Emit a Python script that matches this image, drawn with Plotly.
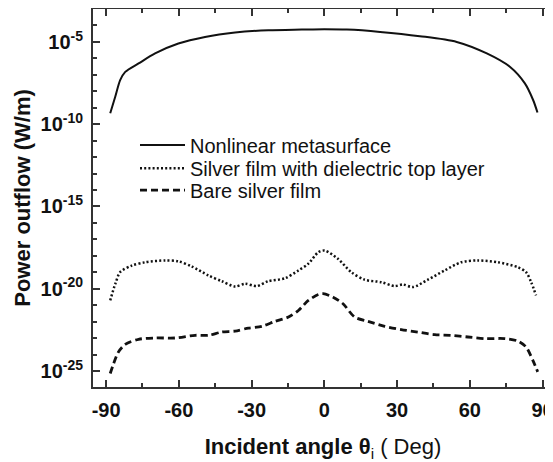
import plotly.graph_objects as go

# Incident angle (deg) and power outflow (W/m)
angle_nonlinear = [-88.3, -86.2, -84.2, -82.1, -76.6, -69.8, -60.2, -49.2, -36.8, -23.1, -9.3, 0.0,
                   9.3, 23.0, 39.4, 54.6, 67.0, 76.5, 82.7, 86.1, 87.9]
power_nonlinear = [4.57e-10, 4.79e-9, 4.79e-8, 1.51e-7, 4.90e-7, 2.00e-6, 7.94e-6, 2.00e-5, 3.72e-5,
                   5.13e-5, 5.62e-5, 5.89e-5, 5.62e-5, 4.07e-5, 2.24e-5, 1.00e-5, 2.00e-6, 3.09e-7,
                   3.02e-8, 2.95e-9, 5.13e-10]

angle_dielectric = [-88.3, -86.2, -84.2, -79.4, -73.9, -65.6, -60.2, -54.6, -47.8, -42.3, -36.8, -32.7,
                    -27.9, -23.1, -16.2, -10.7, -6.6, -2.5, 0.2, 5.6, 11.1, 16.6, 23.5, 29.0, 32.4,
                    36.5, 42.7, 49.6, 56.4, 63.3, 71.6, 79.8, 83.2, 85.3, 87.3]
power_dielectric = [1.95e-21, 2.00e-20, 1.02e-19, 2.57e-19, 4.07e-19, 5.25e-19, 4.68e-19, 2.24e-19,
                    6.46e-20, 2.88e-20, 1.38e-20, 2.00e-20, 1.45e-20, 2.88e-20, 4.37e-20, 1.29e-19,
                    3.31e-19, 1.66e-18, 2.09e-18, 6.61e-19, 1.02e-19, 3.55e-20, 2.51e-20, 1.45e-20,
                    1.82e-20, 1.26e-20, 3.55e-20, 1.29e-19, 4.07e-19, 5.25e-19, 4.07e-19, 2.04e-19,
                    1.02e-19, 2.51e-20, 3.98e-21]

angle_bare = [-88.3, -86.9, -84.9, -82.1, -76.6, -69.8, -61.5, -53.3, -47.8, -42.3, -36.8, -31.3,
              -25.8, -20.3, -14.8, -10.7, -6.6, -2.5, -0.5, 3.6, 7.7, 12.5, 18.0, 24.9, 31.7, 38.6,
              45.5, 52.3, 59.2, 66.1, 74.3, 79.8, 83.2, 86.0, 88.0]
power_bare = [7.08e-26, 2.82e-25, 1.45e-24, 4.17e-24, 8.51e-24, 1.02e-23, 1.02e-23, 1.48e-23,
              1.48e-23, 2.34e-23, 2.69e-23, 4.07e-23, 5.25e-23, 1.05e-22, 1.91e-22, 4.79e-22,
              1.95e-21, 4.47e-21, 5.01e-21, 3.09e-21, 1.23e-21, 1.91e-22, 1.05e-22, 5.25e-23,
              3.31e-23, 2.34e-23, 1.62e-23, 1.48e-23, 1.17e-23, 9.33e-24, 9.33e-24, 6.61e-24,
              2.88e-24, 4.47e-25, 8.91e-26]

series_names = ["Nonlinear metasurface", "Silver film with dielectric top layer", "Bare silver film"]

x_tick_vals = [-90, -60, -30, 0, 30, 60, 90]
x_tick_text = ["<b>-90</b>", "<b>-60</b>", "<b>-30</b>", "<b>0</b>", "<b>30</b>", "<b>60</b>", "<b>90</b>"]
y_tick_vals = [1e-5, 1e-10, 1e-15, 1e-20, 1e-25]
y_tick_text = ["<b>10<sup>-5</sup></b>", "<b>10<sup>-10</sup></b>", "<b>10<sup>-15</sup></b>",
               "<b>10<sup>-20</sup></b>", "<b>10<sup>-25</sup></b>"]
y_minor_vals = [1e-26, 1e-24, 1e-23, 1e-22, 1e-21, 1e-19, 1e-18, 1e-17, 1e-16, 1e-14, 1e-13,
                1e-12, 1e-11, 1e-9, 1e-8, 1e-7, 1e-6, 1e-4, 1e-3]
x_minor_vals = [-75, -45, -15, 15, 45, 75]

FONT = "Liberation Sans, Arial, sans-serif"
INK = "#111111"
AX = "#333333"

fig = go.Figure()
fig.add_trace(go.Scatter(x=angle_nonlinear, y=power_nonlinear, mode="lines", name=series_names[0],
                         legend="legend",
                         line=dict(color=INK, width=2, shape="spline", smoothing=0.8)))
fig.add_trace(go.Scatter(x=angle_dielectric, y=power_dielectric, mode="lines", name=series_names[1],
                         legend="legend2",
                         line=dict(color=INK, width=2.5, dash="2px,2.2px", shape="spline", smoothing=0.8)))
fig.add_trace(go.Scatter(x=angle_bare, y=power_bare, mode="lines", name=series_names[2],
                         legend="legend3",
                         line=dict(color=INK, width=2.8, dash="7px,4px", shape="spline", smoothing=0.8)))

leg_common = dict(x=0.0913, xanchor="left", yanchor="middle", bgcolor="rgba(0,0,0,0)",
                  font=dict(size=20, family=FONT, color=INK), itemwidth=45)

# the page body adds an 8px offset, so the figure is 8px smaller than the window
fig.update_layout(
    width=545, height=454,
    margin=dict(l=85, r=0, t=1, b=75),
    paper_bgcolor="white", plot_bgcolor="white",
    font=dict(family=FONT, color=INK),
    showlegend=True,
    legend=dict(y=0.640, **leg_common),
    legend2=dict(y=0.579, **leg_common),
    legend3=dict(y=0.521, **leg_common),
)
fig.update_xaxes(
    range=[-95.4, 94.3], showgrid=False, zeroline=False, automargin=False,
    showline=True, linecolor=AX, linewidth=2, mirror="allticks",
    ticks="inside", ticklen=7, tickwidth=1.5, tickcolor=AX,
    tickmode="array", tickvals=x_tick_vals, ticktext=x_tick_text,
    tickfont=dict(size=20, family=FONT, color=INK), ticklabelstandoff=4,
    ticklabeloverflow="allow",
    minor=dict(tickmode="array", tickvals=x_minor_vals, ticks="inside", ticklen=4,
               tickwidth=1.5, tickcolor=AX, showgrid=False),
    title=dict(text="<b>Incident angle θ</b><sub>i</sub> ( Deg)", font=dict(size=22, family=FONT, color=INK),
               standoff=23),
)
fig.update_yaxes(
    type="log", range=[-25.97, -3.0], showgrid=False, zeroline=False, automargin=False,
    showline=True, linecolor=AX, linewidth=2, mirror="allticks",
    ticks="inside", ticklen=7, tickwidth=1.5, tickcolor=AX,
    tickmode="array", tickvals=y_tick_vals, ticktext=y_tick_text,
    tickfont=dict(size=20, family=FONT, color=INK), ticklabelstandoff=4,
    ticklabeloverflow="allow",
    minor=dict(tickmode="array", tickvals=y_minor_vals, ticks="inside", ticklen=4,
               tickwidth=1.5, tickcolor=AX, showgrid=False),
    title=dict(text="<b>Power outflow (W/m)</b>", font=dict(size=22, family=FONT, color=INK), standoff=4),
)

fig.write_html("out.html")
